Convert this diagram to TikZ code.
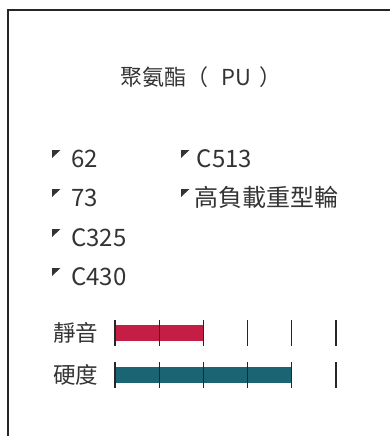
\documentclass[tikz,border=0pt]{standalone}
\usepackage{fontspec}
\setmainfont{Noto Sans CJK TC}
\usepackage{xcolor}
\definecolor{framedark}{HTML}{262626}
\definecolor{textdark}{HTML}{333333}
\definecolor{quietred}{HTML}{C41E45}
\definecolor{hardteal}{HTML}{1A6473}
\usepackage{tikz}
\usetikzlibrary{positioning}

\begin{document}
\begin{tikzpicture}[x=1pt, y=-1pt,
    title/.style={font=\fontsize{22}{26}\selectfont, text=textdark, inner sep=0pt, anchor=base},
    item/.style={font=\fontsize{24}{28}\selectfont, text=textdark, inner sep=0pt, anchor=base west},
    rate/.style={font=\fontsize{22.5}{26}\selectfont, text=textdark, inner sep=0pt, anchor=base west},
    scaletick/.style={draw=framedark, line width=1.3pt}
  ]
    \useasboundingbox (0,0) rectangle (390,436);
    \draw[framedark, line width=2pt] (390,10) -- (8,10) -- (8,436);
    \node[title] (title) at (201,85) {聚氨酯（\hspace{0.6em}PU\hspace{0.35em}）};
    % material list
    \foreach \x/\tx/\y/\name/\txt in {
      52/71/167/a/62,
      52/71/206/b/73,
      52/71/246/c/C325,
      52/71/285/d/C430,
      181/196.5/167/e/C513,
      181/194/206/f/高負載重型輪
    } {
      \fill[textdark] (\x,\y-17) -- ++(8.5,0) -- ++(-8.5,8) -- cycle;
      \node[item] (item-\name) at (\tx,\y) {\txt};
    }
    % rating bars
    \foreach \y/\n/\col/\name/\lab in {
      333/2/quietred/quiet/靜音,
      375/4/hardteal/hard/硬度
    } {
      \node[rate] (lbl-\name) at (53,\y+8) {\lab};
      \fill[\col] (115,\y-8) rectangle (115+44.2*\n,\y+8);
      \foreach \i in {0,...,5}
        \draw[scaletick] (115+44.2*\i,\y-13) -- (115+44.2*\i,\y+13);
    }
  \end{tikzpicture}
\end{document}
